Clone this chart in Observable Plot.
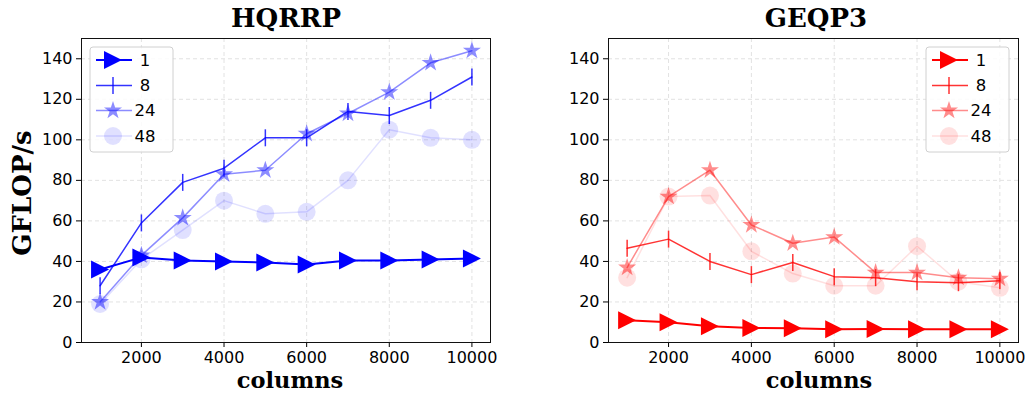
<!DOCTYPE html>
<html>
<head>
<meta charset="utf-8">
<script src="https://cdn.jsdelivr.net/npm/d3@7"></script>
<script src="https://cdn.jsdelivr.net/npm/@observablehq/plot@0.6"></script>
<style>
  html, body { margin: 0; padding: 0; background: white; overflow: hidden; }
  #fig { position: relative; width: 1028px; height: 393px; }
  .panel { position: absolute; top: 0; }
  #overlay { position: absolute; left: 0; top: 0; pointer-events: none; }
  .panel svg [aria-label$="tick label"] { font-family: 'DejaVu Sans', sans-serif !important; font-size: 16px !important; }
  .panel svg [aria-label$="tick label"] text { font-family: 'DejaVu Sans', sans-serif !important; font-size: 16px !important; fill: black; }
</style>
</head>
<body>
<div id="fig">
  <div class="panel" id="left" style="left:0px"></div>
  <div class="panel" id="right" style="left:514px"></div>
  <svg id="overlay" width="1028" height="393"></svg>
</div>
<script>
// ---------- data ----------
const columns = [1000, 2000, 3000, 4000, 5000, 6000, 7000, 8000, 9000, 10000];
const threads = ["1", "8", "24", "48"];
const xTicks = [2000, 4000, 6000, 8000, 10000];
const yTicks = [0, 20, 40, 60, 80, 100, 120, 140];

const hqrrp1  = [36, 42, 40.5, 40, 39.5, 38.5, 40.5, 40.5, 41, 41.5];
const hqrrp8  = [28, 59, 79, 86, 101, 101, 114, 112, 119.5, 131];
const hqrrp24 = [20, 43, 61.5, 83, 85, 103, 113, 123.5, 138, 144];
const hqrrp48 = [19, 41, 55.5, 70, 63.5, 64.5, 80, 105, 101, 100];

const geqp3_1  = [11, 10, 8, 7.2, 7, 6.5, 6.7, 6.5, 6.5, 6.5];
const geqp3_8  = [46.5, 51, 40, 33.5, 39.5, 32.5, 32, 30, 29.5, 30.5];
const geqp3_24 = [37, 72, 85, 58, 49, 52, 34.5, 34.5, 32, 31.5];
const geqp3_48 = [32, 72, 72.5, 45, 34, 28, 28, 47.5, 30, 27];

const titles = ["HQRRP", "GEQP3"];

// ---------- marker symbols (matplotlib-like) ----------
const rOf = size => Math.sqrt(size / Math.PI);
const triRight = { draw(ctx, size) { const r = rOf(size); ctx.moveTo(r, 0); ctx.lineTo(-r, -r); ctx.lineTo(-r, r); ctx.closePath(); } };
const vline = { draw(ctx, size) { const r = rOf(size); ctx.moveTo(0, -r); ctx.lineTo(0, r); } };
const star = { draw(ctx, size) {
  const R = rOf(size), ri = R * 0.381966;
  for (let i = 0; i < 10; i++) {
    const a = -Math.PI / 2 + i * Math.PI / 5, rr = i % 2 ? ri : R;
    const px = rr * Math.cos(a), py = rr * Math.sin(a);
    if (i === 0) ctx.moveTo(px, py); else ctx.lineTo(px, py);
  }
  ctx.closePath();
} };
const circle = { draw(ctx, size) { const r = rOf(size); ctx.moveTo(r, 0); ctx.arc(0, 0, r, 0, 2 * Math.PI); } };

const styles = [
  { symbol: triRight, r: 9, alpha: 1.0, filled: true, lw: 2 },
  { symbol: vline, r: 8.5, alpha: 0.8, filled: false, lw: 1.5 },
  { symbol: star, r: 9.5, alpha: 0.45, filled: true, lw: 1.5 },
  { symbol: circle, r: 9, alpha: 0.12, filled: true, lw: 1.5 }
];

function seriesMarks(values, i, color) {
  const st = styles[i];
  const data = columns.map((c, k) => ({ c, v: values[k] }));
  return [
    Plot.line(data, { x: "c", y: "v", stroke: color, strokeOpacity: st.alpha, strokeWidth: st.lw }),
    Plot.dot(data, st.filled
      ? { x: "c", y: "v", symbol: () => st.symbol, r: st.r, fill: color, fillOpacity: st.alpha, stroke: "none" }
      : { x: "c", y: "v", symbol: () => st.symbol, r: st.r, fill: "none", stroke: color, strokeOpacity: st.alpha, strokeWidth: 1.5 })
  ];
}

function makePanel(seriesList, color, marginLeft, marginRight) {
  return Plot.plot({
    width: 514, height: 393,
    marginLeft, marginRight, marginTop: 38, marginBottom: 51,
    style: { fontFamily: "'DejaVu Sans', sans-serif", fontSize: "16px", color: "black", background: "transparent", overflow: "visible" },
    x: { domain: [550, 10450], label: null },
    y: { domain: [0, 150], label: null },
    symbol: { type: "identity" },
    marks: [
      Plot.gridX(xTicks, { stroke: "#e2e2e2", strokeOpacity: 1, strokeDasharray: "4,3", strokeWidth: 1 }),
      Plot.gridY(yTicks, { stroke: "#e2e2e2", strokeOpacity: 1, strokeDasharray: "4,3", strokeWidth: 1 }),
      Plot.axisX(xTicks, { tickSize: 5, tickPadding: 4, tickFormat: d => String(d), label: null, fontSize: 16 }),
      Plot.axisY(yTicks, { tickSize: 5, tickPadding: 4, tickFormat: d => String(d), label: null, fontSize: 16 }),
      ...seriesList.flatMap((vals, i) => seriesMarks(vals, i, color)),
      Plot.frame({ stroke: "#111", strokeWidth: 1 })
    ]
  });
}

function addLegend(svgNode, color, bx, by) {
  const svg = d3.select(svgNode);
  const g = svg.append("g").attr("transform", `translate(${bx},${by})`);
  g.append("rect").attr("x", 0).attr("y", 0).attr("width", 83).attr("height", 105)
    .attr("rx", 3).attr("fill", "white").attr("fill-opacity", 0.85)
    .attr("stroke", "#d0d0d0").attr("stroke-width", 1);
  const rows = [13, 38.5, 63.5, 89];
  threads.forEach((t, i) => {
    const st = styles[i];
    const y = rows[i];
    g.append("line").attr("x1", 6).attr("x2", 42).attr("y1", y).attr("y2", y)
      .attr("stroke", color).attr("stroke-opacity", st.alpha).attr("stroke-width", st.lw);
    const p = d3.path();
    st.symbol.draw(p, st.r * st.r * Math.PI);
    const m = g.append("path").attr("d", p.toString()).attr("transform", `translate(23,${y})`);
    if (st.filled) m.attr("fill", color).attr("fill-opacity", st.alpha);
    else m.attr("fill", "none").attr("stroke", color).attr("stroke-opacity", st.alpha).attr("stroke-width", 1.5);
    g.append("text").attr("x", 55).attr("y", y).attr("dy", "0.35em")
      .style("font-family", "'DejaVu Sans', sans-serif").style("font-size", "16.5px").attr("fill", "black").text(t);
  });
}

const leftPlot = makePanel([hqrrp1, hqrrp8, hqrrp24, hqrrp48], "#0000ff", 81, 24);
const rightPlot = makePanel([geqp3_1, geqp3_8, geqp3_24, geqp3_48], "#ff0000", 94, 10);
addLegend(leftPlot, "#0000ff", 90, 47);
addLegend(rightPlot, "#ff0000", 412, 47);
document.getElementById("left").appendChild(leftPlot);
document.getElementById("right").appendChild(rightPlot);

// ---------- titles and axis labels ----------
const ov = d3.select("#overlay");
const serif = "'DejaVu Serif', 'Liberation Serif', serif";
[[286, titles[0]], [816, titles[1]]].forEach(([x, t]) => {
  ov.append("text").attr("x", x).attr("y", 27).attr("text-anchor", "middle")
    .attr("font-family", serif).attr("font-weight", "bold").attr("font-size", 26).text(t);
});
[290, 819].forEach(x => {
  ov.append("text").attr("x", x).attr("y", 388).attr("text-anchor", "middle")
    .attr("font-family", serif).attr("font-weight", "bold").attr("font-size", 22.5).text("columns");
});
ov.append("text").attr("transform", "translate(31,193) rotate(-90)").attr("text-anchor", "middle")
  .attr("font-family", serif).attr("font-weight", "bold").attr("font-size", 26).text("GFLOP/s");
</script>
</body>
</html>
